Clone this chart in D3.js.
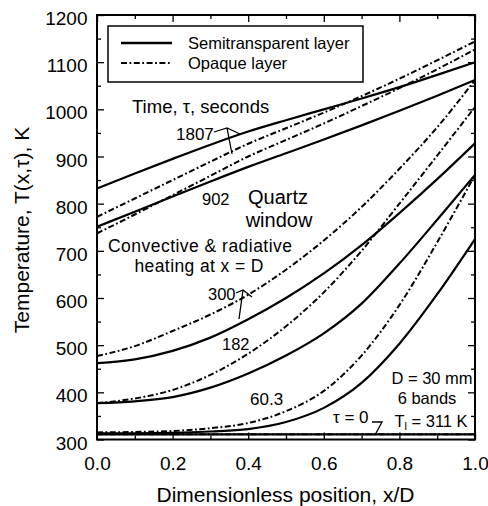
<!DOCTYPE html>
<html>
<head>
<meta charset="utf-8">
<script src="https://cdn.jsdelivr.net/npm/d3@7"></script>
<style>
  html, body { margin: 0; padding: 0; background: #fff; }
  svg { display: block; font-family: "Liberation Sans", Arial, sans-serif; }
</style>
</head>
<body>
<svg id="chart" width="488" height="506"></svg>
<script>
// dimensionless position x/D where temperatures were read
const xPositions = [0, 0.1, 0.2, 0.3, 0.4, 0.5, 0.6, 0.7, 0.8, 0.9, 1.0];

// semitransparent layer, T(x,tau) in K
const semi_0    = [311, 311, 311, 311, 311, 311, 311, 311, 311, 311, 311];
const semi_60_3 = [313, 313, 314, 317, 322, 337, 367, 420, 503, 608, 725];
const semi_182  = [377, 381, 390, 410, 440, 478, 525, 588, 673, 766, 861];
const semi_300  = [462, 470, 488, 516, 555, 600, 652, 712, 780, 852, 928];
const semi_902  = [751, 783, 815, 847, 878, 907, 936, 966, 997, 1029, 1062];
const semi_1807 = [832, 864, 895, 925, 953, 977, 1000, 1023, 1047, 1073, 1100];

// opaque layer, T(x,tau) in K
const opaque_0    = [311, 311, 311, 311, 311, 311, 311, 311, 311, 311, 311];
const opaque_60_3 = [315, 316, 318, 324, 335, 360, 403, 478, 585, 718, 861];
const opaque_182  = [377, 387, 405, 437, 482, 540, 612, 700, 800, 902, 1005];
const opaque_300  = [477, 498, 530, 565, 607, 660, 722, 793, 874, 962, 1062];
const opaque_902  = [737, 777, 818, 859, 900, 935, 970, 1007, 1045, 1085, 1127];
const opaque_1807 = [772, 811, 850, 889, 927, 960, 993, 1028, 1065, 1104, 1144];

const times = ["0", "60.3", "182", "300", "902", "1807"];
const semiSeries = [semi_0, semi_60_3, semi_182, semi_300, semi_902, semi_1807];
const opaqueSeries = [opaque_0, opaque_60_3, opaque_182, opaque_300, opaque_902, opaque_1807];

const xTicks = [0, 0.2, 0.4, 0.6, 0.8, 1.0];
const xMinorTicks = [0.1, 0.3, 0.5, 0.7, 0.9];
const yTicks = [300, 400, 500, 600, 700, 800, 900, 1000, 1100, 1200];
const yMinorTicks = [350, 450, 550, 650, 750, 850, 950, 1050, 1150];

const W = 488, H = 506;
const margin = { top: 15, right: 13, bottom: 66.5, left: 97 };
const FONT = "Liberation Sans, Arial, sans-serif";
const DASHDOT = "6,2.5,1.8,2.5";

const svg = d3.select("#chart");

const x = d3.scaleLinear().domain([0, 1]).range([margin.left, W - margin.right]);
const y = d3.scaleLinear().domain([300, 1200]).range([H - margin.bottom, margin.top]);

function tidy(g, size) {
  g.attr("font-family", FONT).attr("font-size", size);
  g.select(".domain").remove();
  g.selectAll(".tick line").attr("stroke", "#000").attr("stroke-width", 1.3);
  g.selectAll(".tick text").attr("fill", "#000");
}

// left axis with labels
svg.append("g")
  .attr("transform", `translate(${x(0)},0)`)
  .call(d3.axisLeft(y).tickValues(yTicks).tickSize(-7).tickPadding(9.5).tickFormat(d3.format("d")))
  .call(g => tidy(g, 19))
  .call(g => g.selectAll(".tick text").attr("dy", "0.5em"));
svg.append("g")
  .attr("transform", `translate(${x(0)},0)`)
  .call(d3.axisLeft(y).tickValues(yMinorTicks).tickSize(-4).tickFormat(""))
  .call(g => tidy(g, 19));

// right axis, ticks only
svg.append("g")
  .attr("transform", `translate(${x(1)},0)`)
  .call(d3.axisRight(y).tickValues(yTicks).tickSize(-7).tickFormat(""))
  .call(g => tidy(g, 19));
svg.append("g")
  .attr("transform", `translate(${x(1)},0)`)
  .call(d3.axisRight(y).tickValues(yMinorTicks).tickSize(-4).tickFormat(""))
  .call(g => tidy(g, 19));

// bottom axis with labels
svg.append("g")
  .attr("transform", `translate(0,${y(300)})`)
  .call(d3.axisBottom(x).tickValues(xTicks).tickSize(-7).tickPadding(17.5).tickFormat(d3.format(".1f")))
  .call(g => tidy(g, 19));
svg.append("g")
  .attr("transform", `translate(0,${y(300)})`)
  .call(d3.axisBottom(x).tickValues(xMinorTicks).tickSize(-4).tickFormat(""))
  .call(g => tidy(g, 19));

// top axis, ticks only
svg.append("g")
  .attr("transform", `translate(0,${y(1200)})`)
  .call(d3.axisTop(x).tickValues(xTicks).tickSize(-7).tickFormat(""))
  .call(g => tidy(g, 19));
svg.append("g")
  .attr("transform", `translate(0,${y(1200)})`)
  .call(d3.axisTop(x).tickValues(xMinorTicks).tickSize(-4).tickFormat(""))
  .call(g => tidy(g, 19));

// curves
const line = d3.line()
  .x((d, i) => x(xPositions[i]))
  .y(d => y(d))
  .curve(d3.curveMonotoneX);

svg.append("g").selectAll("path.opaque")
  .data(opaqueSeries)
  .join("path")
  .attr("class", "opaque")
  .attr("fill", "none")
  .attr("stroke", "#000")
  .attr("stroke-width", 2)
  .attr("stroke-dasharray", DASHDOT)
  .attr("d", line);

svg.append("g").selectAll("path.semi")
  .data(semiSeries)
  .join("path")
  .attr("class", "semi")
  .attr("fill", "none")
  .attr("stroke", "#000")
  .attr("stroke-width", 2.2)
  .attr("d", line);

// frame
svg.append("rect")
  .attr("x", x(0)).attr("y", y(1200))
  .attr("width", x(1) - x(0)).attr("height", y(300) - y(1200))
  .attr("fill", "none").attr("stroke", "#000").attr("stroke-width", 2);

// axis titles
svg.append("text")
  .attr("x", 285.5).attr("y", 502)
  .attr("text-anchor", "middle")
  .attr("font-size", 21)
  .text("Dimensionless position, x/D");

svg.append("text")
  .attr("transform", "translate(29,230) rotate(-90)")
  .attr("text-anchor", "middle")
  .attr("font-size", 21)
  .text("Temperature, T(x,\u03c4), K");

// legend
const legend = svg.append("g");
legend.append("rect")
  .attr("x", 108).attr("y", 26).attr("width", 255).attr("height", 56)
  .attr("fill", "#fff").attr("stroke", "#000").attr("stroke-width", 1.5);
legend.append("line")
  .attr("x1", 121).attr("x2", 172).attr("y1", 43).attr("y2", 43)
  .attr("stroke", "#000").attr("stroke-width", 2.4);
legend.append("line")
  .attr("x1", 121).attr("x2", 172).attr("y1", 63).attr("y2", 63)
  .attr("stroke", "#000").attr("stroke-width", 2).attr("stroke-dasharray", DASHDOT);
legend.append("text").attr("x", 188).attr("y", 49).attr("font-size", 16.5).text("Semitransparent layer");
legend.append("text").attr("x", 188).attr("y", 69).attr("font-size", 16.5).text("Opaque layer");

// annotations
const notes = [
  { t: "Time, \u03c4, seconds", x: 132, y: 113, s: 18.5 },
  { t: "1807", x: 176, y: 140, s: 17 },
  { t: "902", x: 202, y: 205, s: 16.5 },
  { t: "Quartz", x: 278, y: 204, s: 20, a: "middle" },
  { t: "window", x: 279, y: 227, s: 20, a: "middle" },
  { t: "Convective & radiative", x: 200, y: 251.5, s: 17.5, a: "middle", w: 184 },
  { t: "heating at x = D", x: 199, y: 271.5, s: 17.5, a: "middle", w: 129 },
  { t: "300", x: 208, y: 300, s: 16.5 },
  { t: "182", x: 222, y: 350, s: 16.5 },
  { t: "60.3", x: 250, y: 405, s: 17 },
  { t: "\u03c4 = 0", x: 333, y: 423, s: 17 },
  { t: "D = 30 mm", x: 432, y: 384, s: 16.5, a: "middle" },
  { t: "6 bands", x: 427, y: 404, s: 16.5, a: "middle" }
];
svg.append("g").selectAll("text")
  .data(notes)
  .join("text")
  .attr("x", d => d.x).attr("y", d => d.y)
  .attr("font-size", d => d.s)
  .attr("text-anchor", d => d.a || "start")
  .attr("textLength", d => d.w || null)
  .attr("lengthAdjust", d => d.w ? "spacing" : null)
  .text(d => d.t);

const tl = svg.append("text")
  .attr("x", 431).attr("y", 427)
  .attr("font-size", 16.5)
  .attr("text-anchor", "middle");
tl.append("tspan").text("T");
tl.append("tspan").attr("font-size", 11).attr("dy", 3).text("l");
tl.append("tspan").attr("dy", -3).text(" = 311 K");

// leader marks
const leaders = [
  "M214,132 L227,128 L240,134 M227,128 L232,154",
  "M236,293 L243,290 L252,297 M243,290 L239,319",
  "M372,422 L382,422 L375,435"
];
svg.append("g").selectAll("path")
  .data(leaders)
  .join("path")
  .attr("d", d => d)
  .attr("fill", "none")
  .attr("stroke", "#000")
  .attr("stroke-width", 1.3);
</script>
</body>
</html>
